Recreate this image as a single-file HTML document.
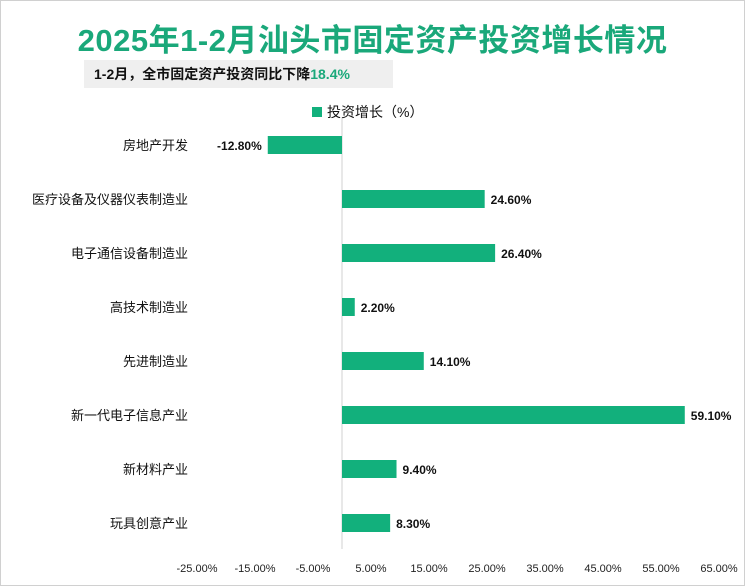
<!DOCTYPE html>
<html><head><meta charset="utf-8"><style>
body{margin:0;width:745px;height:586px;background:#fff;font-family:"Liberation Sans","Noto Sans CJK SC",sans-serif;overflow:hidden}
#frame{position:absolute;left:0;top:0;width:743px;height:584px;border:1px solid #d0d0d0}
#title{position:absolute;left:0;width:745px;top:15px;text-align:center;font-size:31px;font-weight:bold;color:#1aa87a;font-family:"Liberation Sans","Noto Sans CJK SC",sans-serif;letter-spacing:0.5px}
#sub{position:absolute;left:84px;top:60px;width:309px;height:28px;background:#efefef;font-size:14px;font-weight:bold;line-height:28px;padding-left:10px;box-sizing:border-box;color:#111}
</style></head><body>
<div id="frame"></div>
<div id="title">2025年1-2月汕头市固定资产投资增长情况</div>
<div id="sub">1-2月，全市固定资产投资同比下降<span style="color:#1aa87a">18.4%</span></div>
<svg id="chart" width="745" height="586" style="position:absolute;left:0;top:0"></svg>
<script>
const categories=["房地产开发","医疗设备及仪器仪表制造业","电子通信设备制造业","高技术制造业","先进制造业","新一代电子信息产业","新材料产业","玩具创意产业"];
const values=[-12.8,24.6,26.4,2.2,14.1,59.1,9.4,8.3];
const ticks=[-25,-15,-5,5,15,25,35,45,55,65];
const ns="http://www.w3.org/2000/svg";
const svg=document.getElementById('chart');
const x=v=>342+(v)*5.8;
const y=i=>145+i*54;
const barH=18;
function mk(t,a,txt){const e=document.createElementNS(ns,t);for(const k in a)e.setAttribute(k,a[k]);if(txt!==undefined)e.textContent=txt;svg.appendChild(e);return e;}
let lg=mk('rect',{x:312,y:107,width:10,height:10,fill:'#12b07c'});


let lt=mk('text',{x:327,y:117,'font-size':14,fill:'#111'},'投资增长（%）');


let ax=mk('line',{x1:342,x2:342,y1:118,y2:549,stroke:'#d0d0d0','stroke-width':1});


ticks.forEach(t=>{
 let e=mk('text',{x:x(t),y:572,'font-size':11,'text-anchor':'middle',fill:'#222'},t.toFixed(2)+'%');
 
 
});
categories.forEach((c,i)=>{
 let l=mk('text',{x:188,y:y(i)+5,'font-size':13,'text-anchor':'end',fill:'#111'},c);
 
 
 const v=values[i];
 const x0=Math.min(x(0),x(v)),w=Math.abs(x(v)-x(0));
 let b=mk('rect',{x:x0,y:y(i)-barH/2,width:w,height:barH,fill:'#12b07c'});
 
 
 const lx=v<0?x(v)-6:x(v)+6;
 let vl=mk('text',{x:lx,y:y(i)+5,'font-size':12,'font-weight':'bold','text-anchor':v<0?'end':'start',fill:'#111'},v.toFixed(2)+'%');
 
 
});
</script>
</body></html>
